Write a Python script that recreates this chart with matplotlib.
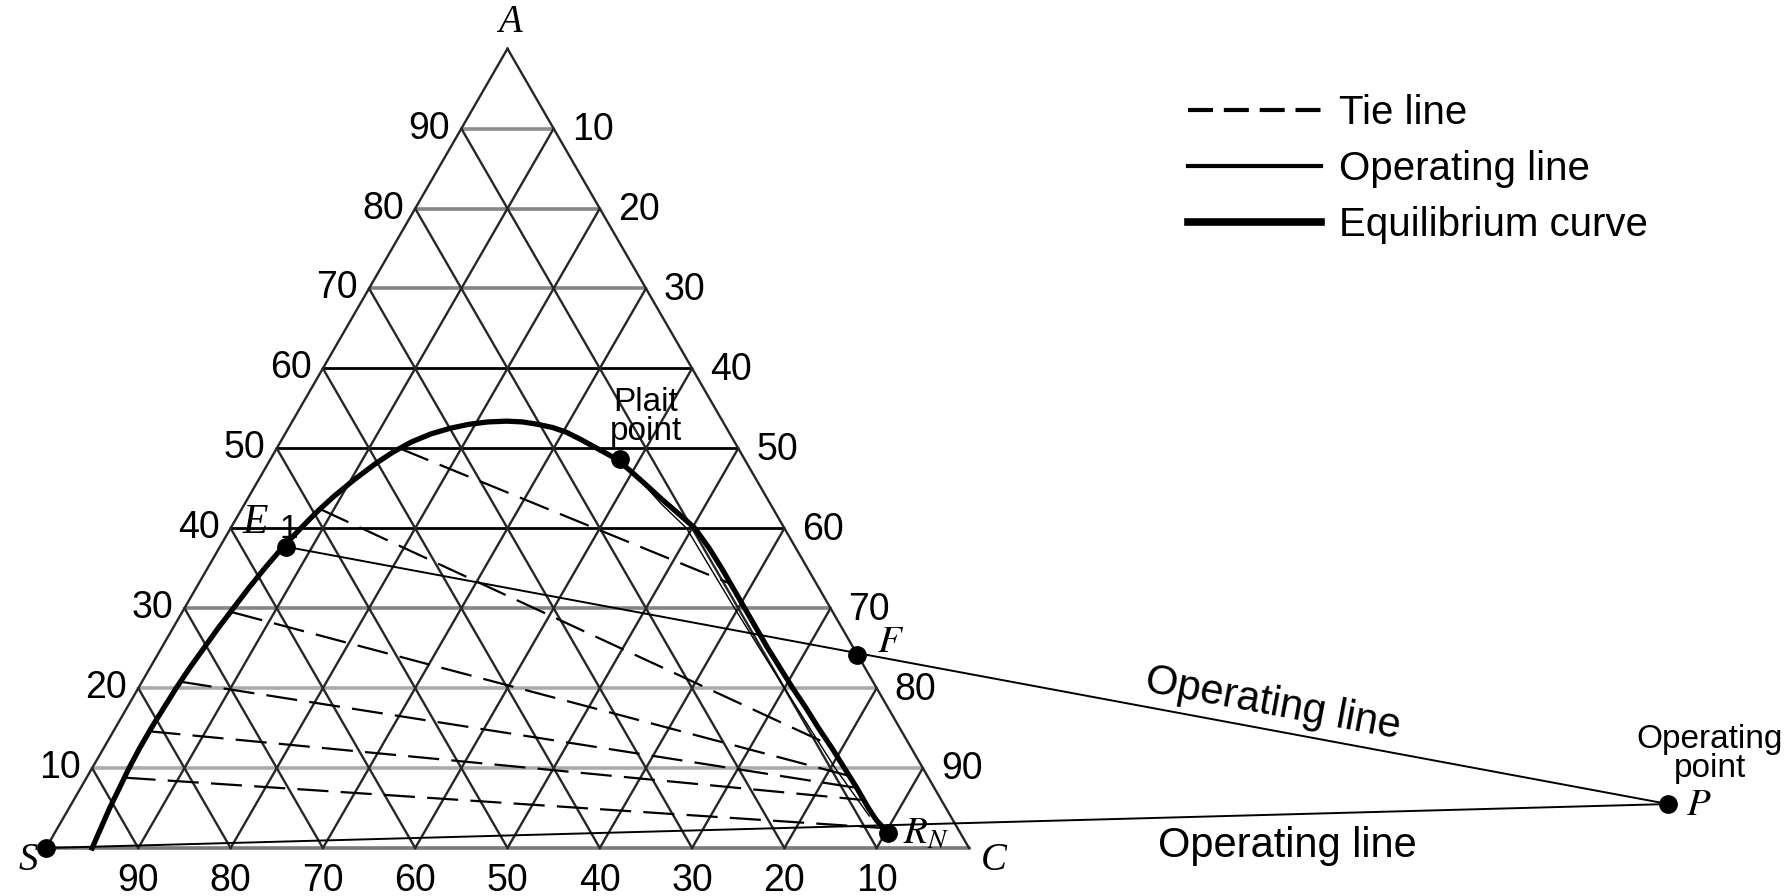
import numpy as np
import matplotlib.pyplot as plt
from matplotlib.lines import Line2D

# ---- values (fractions: a = A, c = C, s = 1 - a - c) ----
grid_ticks = [10, 20, 30, 40, 50, 60, 70, 80, 90]

# equilibrium curve, from the S side over the top down to R_N
eq_a = [0.000, 0.025, 0.050, 0.075, 0.100, 0.125, 0.150, 0.175, 0.200, 0.225,
        0.250, 0.275, 0.300, 0.325, 0.350, 0.375, 0.400, 0.420, 0.440, 0.460,
        0.480, 0.495, 0.508, 0.518, 0.525, 0.530, 0.533, 0.534, 0.533, 0.530,
        0.526, 0.520, 0.511, 0.500, 0.487, 0.472, 0.455, 0.437, 0.419, 0.400,
        0.375, 0.350, 0.325, 0.300, 0.275, 0.250, 0.225, 0.200, 0.175, 0.150,
        0.125, 0.100, 0.075, 0.050, 0.035, 0.019]
eq_c = [0.050, 0.047, 0.044, 0.042, 0.040, 0.039, 0.039, 0.040, 0.041, 0.043,
        0.046, 0.049, 0.053, 0.057, 0.062, 0.068, 0.076, 0.083, 0.092, 0.103,
        0.116, 0.128, 0.142, 0.158, 0.175, 0.193, 0.212, 0.232, 0.250, 0.268,
        0.286, 0.304, 0.324, 0.347, 0.374, 0.397, 0.422, 0.448, 0.475, 0.503,
        0.531, 0.557, 0.582, 0.607, 0.632, 0.657, 0.683, 0.709, 0.736, 0.762,
        0.789, 0.815, 0.841, 0.866, 0.882, 0.903]

# thin line running next to the raffinate branch
thin_a = [0.455, 0.430, 0.400, 0.300, 0.200, 0.100, 0.040]
thin_c = [0.420, 0.452, 0.494, 0.596, 0.700, 0.805, 0.872]

# tie lines (extract end -> raffinate end)
tie_left_a = [0.500, 0.424, 0.295, 0.208, 0.146, 0.088]
tie_left_c = [0.133, 0.085, 0.054, 0.042, 0.039, 0.041]
tie_right_a = [0.330, 0.130, 0.090, 0.075, 0.060, 0.025]
tie_right_c = [0.578, 0.782, 0.826, 0.842, 0.856, 0.895]

# named points
pt_S = (0.0, 0.0)
pt_E1 = (0.377, 0.071)
pt_F = (0.242, 0.758)
pt_RN = (0.019, 0.903)
pt_P = (0.055, 1.730)
pt_plait = (0.487, 0.378)

H = np.sqrt(3) / 2


def xy(a, c):
    a = np.asarray(a, dtype=float)
    c = np.asarray(c, dtype=float)
    return c + a / 2, a * H


# figure: triangle side = 923 px, S corner at pixel (46, 848)
fig = plt.figure(figsize=(17.91, 8.96), dpi=100)
ax = fig.add_axes([0, 0, 1, 1])
ax.set_xlim(-46 / 923, (1791 - 46) / 923)
ax.set_ylim((848 - 896) / 923, 848 / 923)
ax.axis("off")

sans = "Liberation Sans"
serif = "Liberation Serif"
plt.rcParams["mathtext.fontset"] = "stix"
fs = 27

# ---- grid ----
hcol = {10: "#aaaaaa", 20: "#aaaaaa", 30: "#858585", 40: "black", 50: "black",
        60: "black", 70: "#858585", 80: "#858585", 90: "#8c8c8c"}
for t in grid_ticks:
    a = t / 100
    x, y = xy([a, a], [0, 1 - a])
    lw = 2.0 if hcol[t] == "black" else 2.6
    ax.plot(x, y, color=hcol[t], lw=lw, zorder=1, solid_capstyle="butt")
x, y = xy([0, 0], [0, 1])
ax.plot(x, y, color="#7a7a7a", lw=2.6, zorder=1)

for t in [0] + grid_ticks:
    f = t / 100
    # constant C (parallel to left edge)
    x, y = xy([0, 1 - f], [f, f])
    ax.plot(x, y, color="#262626", lw=1.7, zorder=2)
    # constant S (parallel to right edge)
    x, y = xy([0, 1 - f], [1 - f, 0])
    ax.plot(x, y, color="#262626", lw=1.7, zorder=2)

# ---- tick labels ----
for t in grid_ticks:
    a = t / 100
    ax.annotate(str(t), xy(a, 0), xytext=(-8, 0), textcoords="offset points",
                ha="right", va="center", fontsize=fs, family=sans)
    ax.annotate(str(100 - t), xy(a, 1 - a), xytext=(13, -1), textcoords="offset points",
                ha="left", va="center", fontsize=fs, family=sans)
    ax.annotate(str(100 - t), xy(0, a), xytext=(0, -24), textcoords="offset points",
                ha="center", va="center", fontsize=fs, family=sans)

# corner letters
corner = dict(fontsize=28, family=serif, style="italic", ha="center", va="center")
ax.annotate("A", xy(1, 0), xytext=(2, 19), textcoords="offset points", **corner)
ax.annotate("S", xy(0, 0), xytext=(-13, -9), textcoords="offset points", **corner)
ax.annotate("C", xy(0, 1), xytext=(18, -9), textcoords="offset points", **corner)

# ---- tie lines ----
for la, lc, ra, rc in zip(tie_left_a, tie_left_c, tie_right_a, tie_right_c):
    x, y = xy([la, ra], [lc, rc])
    ax.plot(x, y, color="black", lw=1.6, dashes=(14, 5.5), zorder=3)

# ---- operating lines ----
x, y = xy([pt_E1[0], pt_P[0]], [pt_E1[1], pt_P[1]])
ax.plot(x, y, color="black", lw=1.4, zorder=4)
ang1 = np.degrees(np.arctan2(y[1] - y[0], x[1] - x[0]))
mx, my = x[0] + 0.714 * (x[1] - x[0]), y[0] + 0.714 * (y[1] - y[0])
ax.annotate("Operating line", (mx, my), xytext=(0, 19), textcoords="offset points",
            rotation=ang1, rotation_mode="anchor", ha="center", va="center",
            fontsize=30, family=sans)

x, y = xy([pt_S[0], pt_P[0]], [pt_S[1], pt_P[1]])
ax.plot(x, y, color="black", lw=1.4, zorder=4)
mx, my = x[0] + 0.765 * (x[1] - x[0]), y[0] + 0.765 * (y[1] - y[0])
ax.annotate("Operating line", (mx, my), xytext=(0, -23), textcoords="offset points",
            ha="center", va="center", fontsize=30, family=sans)

# ---- equilibrium curve ----
x, y = xy(eq_a, eq_c)
ax.plot(x, y, color="black", lw=3.8, zorder=5, solid_joinstyle="round")
x, y = xy(thin_a, thin_c)
ax.plot(x, y, color="black", lw=1.0, zorder=5)

# ---- points ----
for p in [pt_S, pt_E1, pt_F, pt_RN, pt_P, pt_plait]:
    ax.plot(*xy(*p), "o", color="black", ms=12.5, zorder=6)

lab = dict(fontsize=28, ha="center", va="center", textcoords="offset points")
ax.annotate("E", xy(*pt_E1), xytext=(-22, 17), family=serif, style="italic",
            **{**lab, "fontsize": 30})
ax.annotate("1", xy(*pt_E1), xytext=(2, 12), family=sans,
            **{**lab, "fontsize": 24})
ax.annotate(r"$F$", xy(*pt_F), xytext=(24, 10), **lab)
ax.annotate(r"$R_N$", xy(*pt_RN), xytext=(27, 1), **lab)
ax.annotate(r"$P$", xy(*pt_P), xytext=(22, 0), **lab)

txt = dict(fontsize=24, family=sans, ha="center", va="center",
           multialignment="center", textcoords="offset points")
ax.annotate("Plait\npoint", xy(*pt_plait), xytext=(19, 30), linespacing=0.95, **txt)
ax.annotate("Operating\npoint", xy(*pt_P), xytext=(30, 36), linespacing=0.95, **txt)

# ---- legend ----
handles = [
    Line2D([], [], color="black", lw=3, dashes=(6, 2.6)),
    Line2D([], [], color="black", lw=3),
    Line2D([], [], color="black", lw=5.5),
]
names = ["Tie line", "Operating line", "Equilibrium curve"]
ax.legend(handles, names, loc="upper left", bbox_to_anchor=(1188 / 1791, 1 - 94 / 896),
          bbox_transform=fig.transFigure, frameon=False, borderpad=0, borderaxespad=0,
          handlelength=3.3, handletextpad=0.45, labelspacing=0.45,
          prop={"family": sans, "size": 29})

fig.savefig("out.png", dpi=100)
